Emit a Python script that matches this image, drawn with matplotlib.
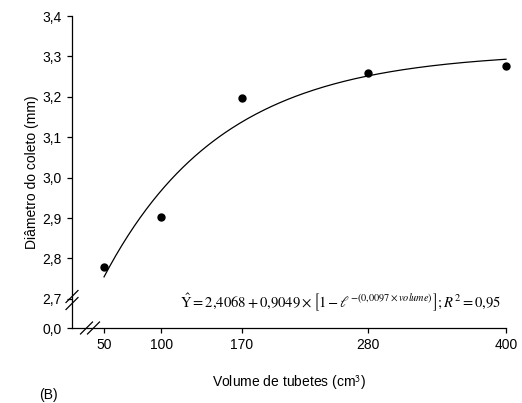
import numpy as np
import matplotlib
matplotlib.use("Agg")
import matplotlib.pyplot as plt

plt.rcParams['font.family'] = ['Liberation Sans', 'DejaVu Sans']
plt.rcParams['mathtext.fontset'] = 'stix'

# data
volume = [50, 100, 170, 280, 400]
diametro = [2.778, 2.902, 3.198, 3.258, 3.277]
x_ticks = [50, 100, 170, 280, 400]
y_ticks = [3.4, 3.3, 3.2, 3.1, 3.0, 2.9, 2.8, 2.7]
y_break = 2.628  # where "0,0" sits after the axis break

# fitted model shown on the chart
b0, b1, k = 2.4068, 0.9049, 0.0097

fig = plt.figure(figsize=(5.22, 4.03), dpi=100)
ax = fig.add_axes([72 / 522, 1 - 328 / 403, (506 - 72) / 522, (328 - 16) / 403])

xs = np.linspace(min(volume), max(volume), 200)
ax.plot(xs, b0 + b1 * (1 - np.exp(-k * xs)), color='black', lw=0.9, clip_on=False)
ax.plot(volume, diametro, 'o', color='black', ms=5, clip_on=False)

ax.set_xlim(22.1, 400)
ax.set_ylim(y_break, 3.4)
ax.set_xticks(x_ticks)
ax.set_xticklabels([str(v) for v in x_ticks])
ax.set_yticks([y_break] + y_ticks)
ax.set_yticklabels(['0,0'] + [f'{v:.1f}'.replace('.', ',') for v in y_ticks])

for s in ['top', 'right']:
    ax.spines[s].set_visible(False)
for s in ['left', 'bottom']:
    ax.spines[s].set_linewidth(0.9)
ax.tick_params(direction='out', length=3.5, width=0.9, labelsize=10, pad=4)

ax.set_ylabel('Diâmetro do coleto (mm)', fontsize=10, labelpad=2)
ax.set_xlabel('Volume de tubetes (cm$^{\\mathsf{3}}$)', fontsize=10, labelpad=15)
fig.text(39 / 522, 1 - 395 / 403, '(B)', fontsize=10, va='center')

# axis break marks
tr = ax.transAxes
w, h = 434.0, 312.0
for dy in (-3.5, 3.5):
    ax.plot([-6 / w, 6 / w], [(28 + dy - 6) / h, (28 + dy + 6) / h],
            color='black', lw=0.9, transform=tr, clip_on=False)
for dx in (-3.5, 3.5):
    ax.plot([(18 + dx - 6) / w, (18 + dx + 6) / w], [-6 / h, 6 / h],
            color='black', lw=0.9, transform=tr, clip_on=False)

eq = (r'$\hat{\mathrm{Y}} = 2{,}4068 + 0{,}9049 \times '
      r'\left[1 - \ell^{-(0{,}0097 \times volume)}_{\ }\right]; R^{2} = 0{,}95$')
ax.text(340 / 522, 1 - 302 / 403, eq, transform=fig.transFigure,
        ha='center', va='center', fontsize=10.5)

fig.savefig('out.png', dpi=100)
